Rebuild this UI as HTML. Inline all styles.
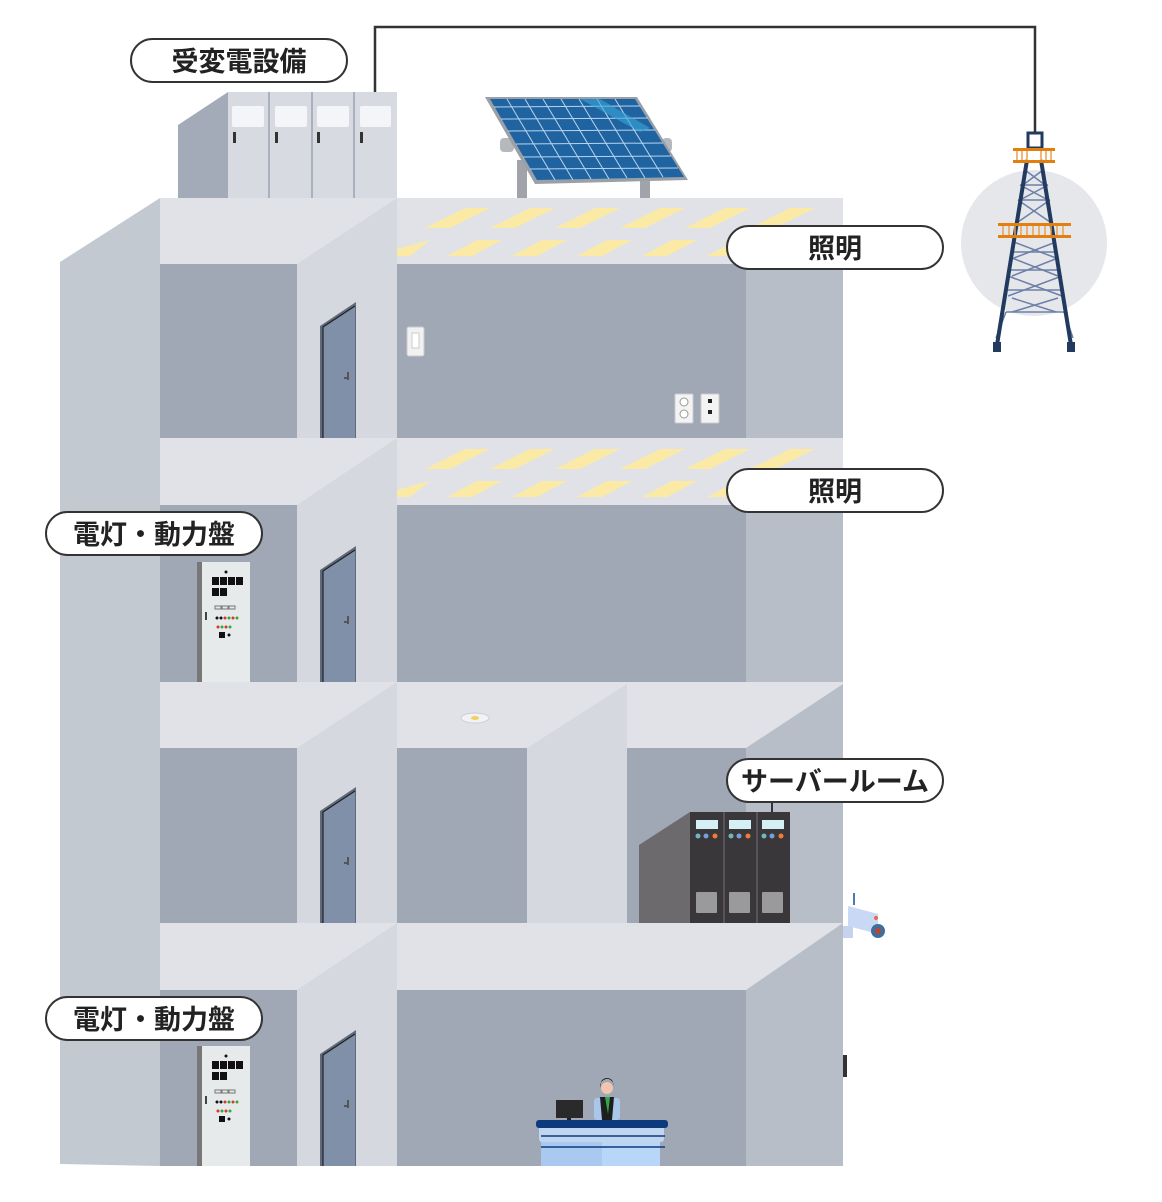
<!DOCTYPE html>
<html><head><meta charset="utf-8"><style>
html,body{margin:0;padding:0;background:#fff;}
svg{display:block}
.lbl{font-family:"Liberation Sans","Noto Sans CJK JP",sans-serif;font-weight:bold;font-size:27px;fill:#222}
</style></head><body>
<svg width="1162" height="1202" viewBox="0 0 1162 1202" xmlns="http://www.w3.org/2000/svg">
<defs>
<g id="door">
  <polygon points="320,24 356,0 356,136 320,136" fill="#5f6a7c"/>
  <polygon points="323,25 355,4 355,136 323,136" fill="#8190a9"/>
  <polyline points="323,136 323,25 355,4" fill="none" stroke="#222" stroke-width="1.2"/>
  <rect x="347" y="70" width="2" height="8" fill="#555"/><rect x="344" y="75" width="5" height="2" fill="#555"/>
</g>
<g id="panel">
  <rect x="197" y="0" width="6" height="120" fill="#777"/>
  <rect x="202" y="0" width="48" height="120" fill="#e6eaea"/>
  <circle cx="226" cy="10" r="1.5" fill="#111"/>
  <g fill="#111"><rect x="212" y="15" width="7" height="8"/><rect x="220" y="15" width="7" height="8"/><rect x="228" y="15" width="7" height="8"/><rect x="236" y="15" width="7" height="8"/><rect x="212" y="26" width="7" height="8"/><rect x="220" y="26" width="7" height="8"/></g>
  <g fill="none" stroke="#777"><rect x="215" y="44" width="6" height="3"/><rect x="222" y="44" width="6" height="3"/><rect x="229" y="44" width="6" height="3"/></g>
  <g><circle cx="217" cy="56" r="1.5" fill="#111"/><circle cx="221" cy="56" r="1.5" fill="#111"/><circle cx="225" cy="56" r="1.5" fill="#d33"/><circle cx="229" cy="56" r="1.5" fill="#3a3"/><circle cx="233" cy="56" r="1.5" fill="#d33"/><circle cx="237" cy="56" r="1.5" fill="#3a3"/>
  <circle cx="218" cy="65" r="1.5" fill="#d33"/><circle cx="222" cy="65" r="1.5" fill="#3a3"/><circle cx="226" cy="65" r="1.5" fill="#d33"/><circle cx="230" cy="65" r="1.5" fill="#3a3"/></g>
  <rect x="219" y="70" width="6" height="6" fill="#111"/><circle cx="229" cy="73" r="1.5" fill="#111"/>
  <rect x="205" y="50" width="2" height="8" fill="#444"/>
</g>
</defs>

<polyline points="375,92 375,27 1035,27 1035,134" fill="none" stroke="#333" stroke-width="2.5"/>

<polygon points="178,125 228,92 228,198 178,198" fill="#a4abb8"/>
<rect x="228" y="92" width="169" height="106" fill="#d7dae1"/>
<g fill="#aab1bd"><rect x="268" y="92" width="2" height="106"/><rect x="311" y="92" width="2" height="106"/><rect x="353" y="92" width="2" height="106"/></g>
<g fill="#f4f5f8"><rect x="232" y="106" width="32" height="21" rx="2"/><rect x="275" y="106" width="32" height="21" rx="2"/><rect x="317" y="106" width="32" height="21" rx="2"/><rect x="360" y="106" width="31" height="21" rx="2"/></g>
<g fill="#333"><rect x="233" y="132" width="3" height="11"/><rect x="275" y="132" width="3" height="11"/><rect x="317" y="132" width="3" height="11"/><rect x="360" y="132" width="3" height="11"/></g>

<rect x="517" y="160" width="10" height="38" fill="#a0a4aa"/>
<rect x="640" y="180" width="10" height="18" fill="#a0a4aa"/>
<rect x="500" y="138" width="14" height="14" rx="4" fill="#b5b8bd"/>
<rect x="662" y="138" width="10" height="14" rx="4" fill="#b5b8bd"/>
<polygon points="485,97 637,97 688,180 535,184" fill="#9aa0a8"/>
<polygon points="490,99 635,99 684,177 537,180" fill="#1f64a0"/>
<g stroke="#b8d4ef" stroke-width="1" fill="none">
<line x1="494" y1="107" x2="640" y2="106"/><line x1="501" y1="119" x2="648" y2="118"/><line x1="508" y1="131" x2="655" y2="130"/><line x1="516" y1="144" x2="663" y2="143"/><line x1="523" y1="157" x2="671" y2="156"/><line x1="530" y1="169" x2="678" y2="168"/>
<line x1="507" y1="99" x2="555" y2="180"/><line x1="525" y1="99" x2="573" y2="180"/><line x1="543" y1="99" x2="591" y2="179"/><line x1="561" y1="99" x2="609" y2="179"/><line x1="579" y1="99" x2="627" y2="178"/><line x1="597" y1="99" x2="645" y2="178"/><line x1="615" y1="99" x2="663" y2="177"/>
</g>
<polygon points="580,99 600,99 650,128 640,132" fill="#3aa6d8" opacity="0.6"/>

<circle cx="1034" cy="243" r="73" fill="#e6e7eb"/>
<g stroke="#6c80a8" stroke-width="1.5" fill="none">
<line x1="1025" y1="170" x2="1045" y2="185"/><line x1="1043" y1="170" x2="1023" y2="185"/>
<line x1="1020" y1="185" x2="1048" y2="200"/><line x1="1048" y1="185" x2="1020" y2="200"/><line x1="1020" y1="185" x2="1048" y2="185"/>
<line x1="1018" y1="200" x2="1050" y2="222"/><line x1="1050" y1="200" x2="1018" y2="222"/><line x1="1018" y1="200" x2="1050" y2="200"/>
<line x1="1014" y1="242" x2="1056" y2="258"/><line x1="1056" y1="242" x2="1014" y2="258"/><line x1="1013" y1="252" x2="1057" y2="252"/>
<line x1="1012" y1="258" x2="1058" y2="276"/><line x1="1058" y1="258" x2="1012" y2="276"/><line x1="1011" y1="270" x2="1059" y2="270"/>
<line x1="1008" y1="276" x2="1062" y2="296"/><line x1="1062" y1="276" x2="1008" y2="296"/><line x1="1007" y1="290" x2="1063" y2="290"/><line x1="1006" y1="312" x2="1064" y2="312"/>
<line x1="1006" y1="312" x2="996" y2="338"/><line x1="1064" y1="312" x2="1073" y2="338"/><line x1="1012" y1="298" x2="1056" y2="312"/><line x1="1058" y1="298" x2="1012" y2="312"/>
</g>
<g stroke="#213a5e" stroke-width="4" fill="none">
<line x1="1027" y1="160" x2="997" y2="345"/><line x1="1041" y1="160" x2="1071" y2="345"/>
</g>
<rect x="1028" y="133" width="14" height="15" fill="none" stroke="#213a5e" stroke-width="3"/>
<rect x="993" y="342" width="8" height="10" fill="#213a5e"/><rect x="1067" y="342" width="8" height="10" fill="#213a5e"/>
<g fill="#e27f0e"><rect x="1013" y="148" width="42" height="3"/><rect x="1013" y="160" width="42" height="3"/><rect x="998" y="223" width="73" height="3"/><rect x="998" y="235" width="73" height="3"/></g>
<g stroke="#e9a04f" stroke-width="1.5"><line x1="1017" y1="151" x2="1017" y2="160"/><line x1="1022" y1="151" x2="1022" y2="160"/><line x1="1027" y1="151" x2="1027" y2="160"/><line x1="1041" y1="151" x2="1041" y2="160"/><line x1="1046" y1="151" x2="1046" y2="160"/><line x1="1051" y1="151" x2="1051" y2="160"/>
<line x1="1003" y1="226" x2="1003" y2="235"/><line x1="1009" y1="226" x2="1009" y2="235"/><line x1="1015" y1="226" x2="1015" y2="235"/><line x1="1021" y1="226" x2="1021" y2="235"/><line x1="1027" y1="226" x2="1027" y2="235"/><line x1="1033" y1="226" x2="1033" y2="235"/><line x1="1039" y1="226" x2="1039" y2="235"/><line x1="1045" y1="226" x2="1045" y2="235"/><line x1="1051" y1="226" x2="1051" y2="235"/><line x1="1057" y1="226" x2="1057" y2="235"/><line x1="1063" y1="226" x2="1063" y2="235"/></g>

<polygon points="60,262 160,198 160,1166 60,1164" fill="#c3c9d1"/>

<g fill="#e0e2e7">
<rect x="160" y="198" width="683" height="66"/>
<rect x="160" y="438" width="683" height="67"/>
<rect x="160" y="682" width="683" height="66"/>
<rect x="160" y="923" width="683" height="67"/>
</g>
<g fill="#9fa8b4">
<rect x="160" y="264" width="137" height="174"/><rect x="397" y="264" width="349" height="174"/>
<rect x="160" y="505" width="137" height="177"/><rect x="397" y="505" width="349" height="177"/>
<rect x="160" y="748" width="137" height="175"/><rect x="397" y="748" width="130" height="175"/><rect x="627" y="748" width="119" height="175"/>
<rect x="160" y="990" width="137" height="176"/><rect x="397" y="990" width="349" height="176"/>
</g>
<g fill="#d5d8df">
<polygon points="297,264 397,198 397,438 297,438"/>
<polygon points="297,505 397,438 397,682 297,682"/>
<polygon points="297,748 397,682 397,923 297,923"/>
<polygon points="297,990 397,923 397,1166 297,1166"/>
<polygon points="527,748 627,684 627,923 527,923"/>
</g>
<g fill="#b8bec8">
<rect x="746" y="264" width="97" height="174"/>
<rect x="746" y="505" width="97" height="177"/>
<polygon points="746,748 843,684 843,923 746,923"/>
<polygon points="746,990 843,923 843,1166 746,1166"/>
</g>

<g fill="#fbeaa6">
<polygon points="425,228 450,228 490,208 465,208"/><polygon points="490,228 515,228 555,208 530,208"/><polygon points="555,228 580,228 620,208 595,208"/><polygon points="620,228 645,228 685,208 660,208"/><polygon points="685,228 710,228 750,208 725,208"/><polygon points="750,228 775,228 815,208 790,208"/>
<polygon points="397,256 410,256 430,240 397,249"/><polygon points="447,256 472,256 502,240 477,240"/><polygon points="512,256 537,256 567,240 542,240"/><polygon points="577,256 602,256 632,240 607,240"/><polygon points="642,256 667,256 697,240 672,240"/><polygon points="707,256 732,256 762,240 737,240"/>
<polygon points="425,469 450,469 490,449 465,449"/><polygon points="490,469 515,469 555,449 530,449"/><polygon points="555,469 580,469 620,449 595,449"/><polygon points="620,469 645,469 685,449 660,449"/><polygon points="685,469 710,469 750,449 725,449"/><polygon points="750,469 775,469 815,449 790,449"/>
<polygon points="397,497 410,497 430,481 397,490"/><polygon points="447,497 472,497 502,481 477,481"/><polygon points="512,497 537,497 567,481 542,481"/><polygon points="577,497 602,497 632,481 607,481"/><polygon points="642,497 667,497 697,481 672,481"/><polygon points="707,497 732,497 762,481 737,481"/>
</g>

<use href="#door" transform="translate(0,302)"/>
<use href="#door" transform="translate(0,546)"/>
<use href="#door" transform="translate(0,787)"/>
<use href="#door" transform="translate(0,1030)"/>

<use href="#panel" transform="translate(0,562)"/>
<use href="#panel" transform="translate(0,1046)"/>

<rect x="407" y="327" width="17" height="29" rx="2" fill="#f1f1f1" stroke="#ccc"/><rect x="412" y="333" width="7" height="15" fill="#fff" stroke="#ccc"/>
<rect x="675" y="394" width="18" height="29" rx="1" fill="#f3f3f3" stroke="#ccc"/><rect x="701" y="394" width="18" height="29" rx="1" fill="#f3f3f3" stroke="#ccc"/>
<circle cx="684" cy="402" r="4" fill="#fff" stroke="#999"/><circle cx="684" cy="414" r="4" fill="#fff" stroke="#999"/>
<rect x="708" y="399" width="4" height="4" fill="#222"/><rect x="708" y="410" width="4" height="4" fill="#222"/>

<ellipse cx="475" cy="718" rx="14" ry="5" fill="#f2f2f2" stroke="#ccd"/><ellipse cx="475" cy="718" rx="4" ry="2" fill="#f2d060"/>

<polygon points="639,845 690,812 690,923 639,923" fill="#6c6a6d"/>
<rect x="690" y="812" width="100" height="111" fill="#393739"/>
<g fill="#56545a"><rect x="723" y="812" width="2" height="111"/><rect x="756" y="812" width="2" height="111"/></g>
<g fill="#d5f0f4"><rect x="696" y="820" width="22" height="9"/><rect x="729" y="820" width="22" height="9"/><rect x="762" y="820" width="22" height="9"/></g>
<g><circle cx="698" cy="836" r="2.5" fill="#6cb7c2"/><circle cx="706" cy="836" r="2.5" fill="#7a9ed4"/><circle cx="715" cy="836" r="2.5" fill="#f07a3a"/>
<circle cx="731" cy="836" r="2.5" fill="#6cb7c2"/><circle cx="739" cy="836" r="2.5" fill="#7a9ed4"/><circle cx="748" cy="836" r="2.5" fill="#f07a3a"/>
<circle cx="764" cy="836" r="2.5" fill="#6cb7c2"/><circle cx="772" cy="836" r="2.5" fill="#7a9ed4"/><circle cx="781" cy="836" r="2.5" fill="#f07a3a"/></g>
<g fill="#9a999c"><rect x="696" y="892" width="21" height="21" rx="1"/><rect x="729" y="892" width="21" height="21" rx="1"/><rect x="762" y="892" width="21" height="21" rx="1"/></g>
<line x1="772" y1="802" x2="772" y2="812" stroke="#333" stroke-width="2"/>

<rect x="843" y="926" width="10" height="12" fill="#c6d3ee"/>
<polygon points="848,906 878,914 878,934 848,926" fill="#c8d8f5"/>
<rect x="853" y="893" width="2" height="12" fill="#4a7ab8"/>
<circle cx="878" cy="931" r="7" fill="#3e6f9c"/><circle cx="878" cy="931" r="3" fill="#b43"/>
<circle cx="876" cy="918" r="2" fill="#e86a4a"/>

<rect x="556" y="1100" width="27" height="18" fill="#2a2a2a"/><rect x="567" y="1118" width="4" height="4" fill="#222"/>
<rect x="594" y="1098" width="26" height="22" rx="3" fill="#a9c7ea"/>
<path d="M600,1097 L614,1097 L612,1120 L602,1120Z" fill="#1e1e1e"/>
<polygon points="605,1097 610,1097 608,1114" fill="#2eaa4a"/>
<circle cx="607" cy="1088" r="6" fill="#f0c6b0"/><path d="M600,1088 a7,8 0 0 1 14,-2 l-1,-3 a6,5 0 0 0 -12,0z" fill="#1a1a1a"/>
<rect x="541" y="1140" width="119" height="26" fill="#a9c9f1"/><rect x="602" y="1140" width="58" height="26" fill="#b8d6f8"/>
<rect x="539" y="1126" width="125" height="16" rx="3" fill="#c0d6f0"/>
<rect x="536" y="1120" width="132" height="8" rx="3" fill="#0d3a7c"/>
<line x1="541" y1="1136" x2="665" y2="1136" stroke="#0d3a7c" stroke-width="1.5"/><line x1="541" y1="1147" x2="665" y2="1147" stroke="#0d3a7c" stroke-width="1.5"/>

<rect x="843" y="1055" width="4" height="22" fill="#333"/>

<g fill="#fff" stroke="#333" stroke-width="2">
<rect x="131" y="39" width="216" height="43" rx="21.5"/>
<rect x="727" y="226" width="216" height="43" rx="21.5"/>
<rect x="727" y="469" width="216" height="43" rx="21.5"/>
<rect x="46" y="512" width="216" height="43" rx="21.5"/>
<rect x="727" y="759" width="216" height="43" rx="21.5"/>
<rect x="46" y="997" width="216" height="43" rx="21.5"/>
</g>
<g class="lbl" text-anchor="middle">
<text x="239" y="71">受変電設備</text>
<text x="835" y="258">照明</text>
<text x="835" y="501">照明</text>
<text x="154" y="544">電灯・動力盤</text>
<text x="835" y="791">サーバールーム</text>
<text x="154" y="1029">電灯・動力盤</text>
</g>
</svg>
</body></html>
